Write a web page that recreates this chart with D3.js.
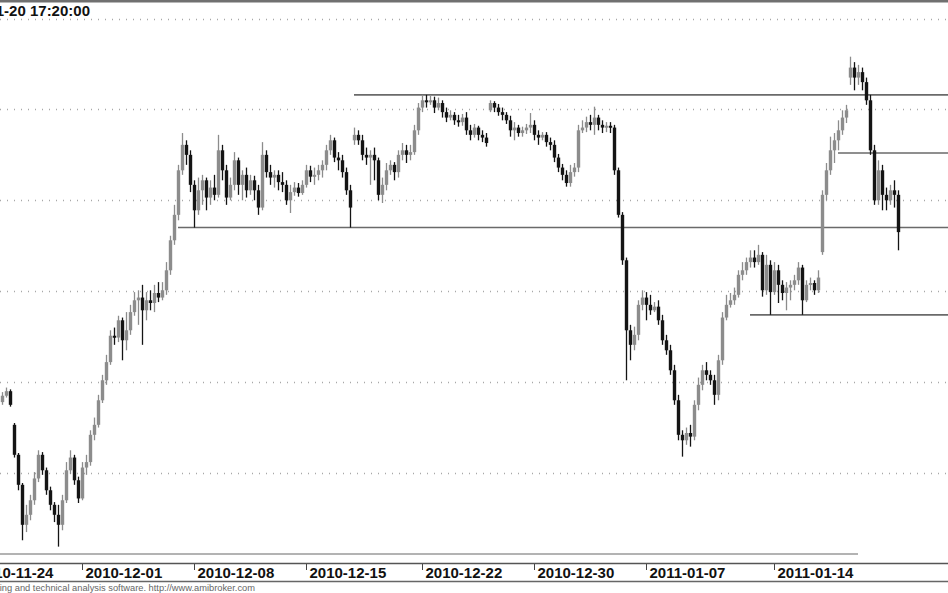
<!DOCTYPE html>
<html>
<head>
<meta charset="utf-8">
<script src="https://d3js.org/d3.v7.min.js"></script>
<style>
  body { margin: 0; background: #fff; }
  svg { display: block; }
</style>
</head>
<body>
<script>
'use strict';

// bar values, left to right (open / high / low / close)
const opens = [
  1078, 1085, 1090, 1053, 1020, 987, 943, 954, 970, 994,
  1020, 1003, 981, 965, 954, 943, 970, 1003, 1017, 992,
  972, 1006, 1012, 1042, 1053, 1080, 1102, 1122, 1151, 1149,
  1168, 1146, 1157, 1177, 1190, 1193, 1179, 1190, 1187, 1198,
  1193, 1201, 1223, 1256, 1284, 1333, 1361, 1350, 1317, 1289,
  1311, 1322, 1303, 1314, 1306, 1355, 1333, 1303, 1317, 1344,
  1317, 1328, 1311, 1322, 1311, 1292, 1350, 1331, 1325, 1328,
  1320, 1317, 1300, 1309, 1314, 1308, 1317, 1333, 1326, 1328,
  1333, 1339, 1355, 1366, 1347, 1344, 1331, 1311, 1366, 1372,
  1366, 1350, 1347, 1350, 1344, 1306, 1317, 1333, 1339, 1331,
  1350, 1355, 1350, 1353, 1377, 1402, 1410, 1408, 1410, 1402,
  1407, 1397, 1391, 1394, 1388, 1386, 1391, 1377, 1372, 1380,
  1372, 1369, 1399, 1407, 1402, 1397, 1394, 1388, 1377, 1380,
  1374, 1377, 1380, 1383, 1372, 1369, 1372, 1364, 1361, 1347,
  1336, 1328, 1319, 1331, 1336, 1377, 1380, 1386, 1383, 1391,
  1383, 1380, 1382, 1380, 1333, 1284, 1234, 1157, 1141, 1152,
  1185, 1193, 1185, 1179, 1183, 1168, 1146, 1135, 1113, 1080,
  1042, 1036, 1044, 1040, 1075, 1097, 1113, 1108, 1102, 1086,
  1124, 1171, 1185, 1190, 1196, 1218, 1223, 1232, 1237, 1232,
  1240, 1201, 1229, 1199, 1223, 1207, 1198, 1204, 1207, 1212,
  1226, 1190, 1207, 1209, 1201, 1243, 1306, 1333, 1355, 1366,
  1377, 1391, 1435, 1446, 1435, 1441, 1430, 1410, 1355, 1300,
  1333, 1306, 1300, 1311, 1306
];
const highs = [
  1089, 1094, 1092, 1055, 1022, 989, 965, 976, 1001, 1025,
  1023, 1006, 985, 968, 965, 976, 1012, 1025, 1020, 996,
  1012, 1020, 1047, 1061, 1086, 1108, 1130, 1157, 1160, 1173,
  1171, 1177, 1185, 1199, 1201, 1207, 1199, 1201, 1207, 1210,
  1210, 1232, 1261, 1295, 1339, 1374, 1366, 1355, 1322, 1325,
  1328, 1325, 1322, 1328, 1372, 1361, 1339, 1325, 1353, 1347,
  1333, 1336, 1328, 1327, 1317, 1364, 1355, 1339, 1333, 1333,
  1331, 1322, 1317, 1320, 1319, 1322, 1339, 1338, 1336, 1339,
  1344, 1361, 1372, 1369, 1353, 1350, 1336, 1317, 1380, 1377,
  1372, 1358, 1355, 1358, 1347, 1325, 1341, 1344, 1342, 1355,
  1363, 1361, 1361, 1383, 1407, 1416, 1416, 1415, 1414, 1413,
  1410, 1402, 1399, 1397, 1394, 1395, 1397, 1383, 1384, 1382,
  1377, 1374, 1410, 1409, 1406, 1402, 1397, 1393, 1386, 1383,
  1381, 1384, 1396, 1388, 1377, 1375, 1375, 1369, 1366, 1351,
  1340, 1333, 1339, 1341, 1383, 1388, 1392, 1394, 1403, 1394,
  1388, 1386, 1386, 1383, 1336, 1287, 1237, 1163, 1161, 1190,
  1201, 1199, 1196, 1188, 1190, 1174, 1152, 1141, 1119, 1086,
  1047, 1050, 1053, 1080, 1105, 1119, 1122, 1113, 1108, 1130,
  1177, 1196, 1198, 1204, 1223, 1232, 1237, 1245, 1245, 1251,
  1243, 1240, 1234, 1232, 1229, 1212, 1210, 1212, 1218, 1232,
  1229, 1212, 1215, 1212, 1223, 1311, 1341, 1370, 1374, 1388,
  1399, 1405, 1458, 1452, 1449, 1446, 1435, 1416, 1361, 1344,
  1339, 1314, 1317, 1322, 1311
];
const lows = [
  1075, 1083, 1073, 1017, 981, 926, 935, 948, 965, 990,
  998, 976, 959, 946, 919, 937, 967, 999, 987, 967,
  970, 998, 1008, 1036, 1050, 1077, 1097, 1119, 1141, 1144,
  1124, 1135, 1152, 1173, 1163, 1141, 1168, 1179, 1177, 1188,
  1190, 1196, 1218, 1251, 1278, 1328, 1339, 1309, 1270, 1284,
  1295, 1289, 1295, 1300, 1303, 1322, 1295, 1300, 1311, 1306,
  1300, 1303, 1306, 1300, 1284, 1289, 1325, 1317, 1314, 1311,
  1309, 1295, 1286, 1305, 1304, 1306, 1314, 1320, 1317, 1322,
  1325, 1333, 1350, 1342, 1333, 1325, 1306, 1270, 1361, 1361,
  1344, 1339, 1317, 1322, 1300, 1297, 1311, 1328, 1322, 1325,
  1344, 1341, 1344, 1350, 1372, 1397, 1402, 1405, 1396, 1399,
  1391, 1386, 1388, 1383, 1381, 1382, 1372, 1366, 1369, 1366,
  1364, 1359, 1397, 1397, 1393, 1388, 1384, 1370, 1366, 1370,
  1370, 1373, 1374, 1366, 1361, 1366, 1359, 1355, 1342, 1331,
  1322, 1315, 1315, 1326, 1331, 1374, 1375, 1377, 1372, 1377,
  1374, 1375, 1374, 1328, 1281, 1229, 1102, 1124, 1135, 1146,
  1179, 1168, 1174, 1177, 1163, 1141, 1130, 1108, 1075, 1036,
  1018, 1031, 1029, 1036, 1069, 1091, 1102, 1097, 1075, 1080,
  1119, 1168, 1182, 1185, 1193, 1212, 1218, 1226, 1226, 1229,
  1194, 1196, 1174, 1196, 1187, 1190, 1179, 1190, 1201, 1207,
  1174, 1188, 1201, 1196, 1198, 1240, 1300, 1328, 1341, 1355,
  1372, 1385, 1427, 1421, 1427, 1421, 1405, 1350, 1295, 1295,
  1289, 1289, 1295, 1292, 1245
];
const closes = [
  1085, 1090, 1075, 1020, 987, 943, 954, 970, 994, 1020,
  1003, 981, 965, 954, 943, 970, 1003, 1017, 992, 972,
  1006, 1012, 1042, 1053, 1080, 1102, 1122, 1151, 1149, 1168,
  1146, 1157, 1177, 1190, 1193, 1179, 1190, 1187, 1198, 1193,
  1201, 1223, 1256, 1284, 1333, 1361, 1350, 1317, 1289, 1311,
  1322, 1303, 1314, 1306, 1355, 1333, 1303, 1317, 1344, 1317,
  1328, 1311, 1322, 1311, 1292, 1350, 1331, 1325, 1328, 1320,
  1317, 1300, 1309, 1314, 1308, 1317, 1333, 1326, 1328, 1333,
  1339, 1355, 1366, 1347, 1344, 1331, 1311, 1292, 1372, 1366,
  1350, 1347, 1350, 1344, 1306, 1317, 1333, 1339, 1331, 1350,
  1355, 1350, 1353, 1377, 1402, 1410, 1408, 1410, 1402, 1407,
  1397, 1391, 1394, 1388, 1386, 1391, 1377, 1372, 1380, 1372,
  1369, 1363, 1407, 1402, 1397, 1394, 1388, 1377, 1380, 1374,
  1377, 1380, 1383, 1372, 1369, 1372, 1364, 1361, 1347, 1336,
  1328, 1319, 1331, 1336, 1377, 1380, 1386, 1383, 1391, 1383,
  1380, 1382, 1380, 1333, 1284, 1234, 1157, 1141, 1152, 1185,
  1193, 1185, 1179, 1183, 1168, 1146, 1135, 1113, 1080, 1042,
  1036, 1044, 1040, 1075, 1097, 1113, 1108, 1102, 1086, 1124,
  1171, 1185, 1190, 1196, 1218, 1223, 1232, 1237, 1232, 1240,
  1201, 1229, 1199, 1223, 1207, 1198, 1204, 1207, 1212, 1226,
  1190, 1207, 1209, 1201, 1215, 1306, 1333, 1355, 1366, 1377,
  1391, 1399, 1446, 1435, 1441, 1430, 1410, 1355, 1300, 1333,
  1306, 1300, 1311, 1306, 1265
];

// date axis: bar index of each tick and its label
const tickBars = [-7, 20, 48, 76, 105, 133, 161, 193];
const tickLabels = ['2010-11-24', '2010-12-01', '2010-12-08', '2010-12-15',
                    '2010-12-22', '2010-12-30', '2011-01-07', '2011-01-14'];

// horizontal support / resistance lines: price and first bar
const levelValues = [1416, 1270, 1352, 1174];
const levelStartBars = [88, 44, 209, 187];

// dotted price grid
const gridValues = [1000, 1100, 1200, 1300, 1400, 1500];

const titleText = '2011-01-20 17:20:00';
const footerText = 'AmiBroker - advanced charting and technical analysis software. http://www.amibroker.com';

(function() {

  const width = 948;
  const height = 593;
  const font = '"Liberation Sans", Arial, sans-serif';

  const svg = d3.select('body')
    .append('svg')
    .attr('width', width)
    .attr('height', height)
    .style('font-family', font);

  const xScale = d3.scaleLinear()
    .domain([0, closes.length - 1])
    .range([2, 898]);

  const yScale = d3.scaleLinear()
    .domain([1000, 1500])
    .range([473, 18.5]);

  // top frame line
  svg.append('rect')
    .attr('x', 0).attr('y', 0)
    .attr('width', width).attr('height', 2.5)
    .attr('fill', '#707070');

  // dotted grid
  svg.append('g')
    .selectAll('line')
    .data(gridValues)
    .enter()
    .append('line')
      .attr('x1', 0)
      .attr('x2', width)
      .attr('y1', d => Math.round(yScale(d)) + 0.5)
      .attr('y2', d => Math.round(yScale(d)) + 0.5)
      .attr('stroke', '#a8a8a8')
      .attr('stroke-width', 1.5)
      .attr('stroke-dasharray', '1,6');

  // support / resistance lines
  svg.append('g')
    .selectAll('line')
    .data(levelValues)
    .enter()
    .append('line')
      .attr('x1', (d, i) => xScale(levelStartBars[i]))
      .attr('x2', width)
      .attr('y1', d => yScale(d))
      .attr('y2', d => yScale(d))
      .attr('stroke', '#6a6a6a')
      .attr('stroke-width', 1.6);

  // candles: grey when up, black when down
  const bars = closes.map((c, i) => ({ i: i, o: opens[i], h: highs[i], l: lows[i], c: c }));
  const colorOf = d => d.c >= d.o ? '#8c8c8c' : '#141414';

  const candle = svg.append('g')
    .selectAll('g')
    .data(bars)
    .enter()
    .append('g');

  candle.append('line')
    .attr('x1', d => xScale(d.i) + 0.5)
    .attr('x2', d => xScale(d.i) + 0.5)
    .attr('y1', d => yScale(d.h))
    .attr('y2', d => yScale(d.l))
    .attr('stroke', colorOf)
    .attr('stroke-width', 1.3);

  candle.append('rect')
    .attr('x', d => xScale(d.i) - 1.2)
    .attr('width', 3.4)
    .attr('y', d => yScale(Math.max(d.o, d.c)))
    .attr('height', d => Math.max(2, Math.abs(yScale(d.o) - yScale(d.c))))
    .attr('fill', colorOf);

  // bottom frame lines
  svg.append('line')
    .attr('x1', 0).attr('x2', 858)
    .attr('y1', 554).attr('y2', 554)
    .attr('stroke', '#9a9a9a').attr('stroke-width', 1.5);
  svg.append('line')
    .attr('x1', 0).attr('x2', width)
    .attr('y1', 563.5).attr('y2', 563.5)
    .attr('stroke', '#555').attr('stroke-width', 1.5);
  svg.append('line')
    .attr('x1', 0).attr('x2', width)
    .attr('y1', 581.5).attr('y2', 581.5)
    .attr('stroke', '#666').attr('stroke-width', 1.5);

  // date axis
  const xAxis = d3.axisBottom(xScale)
    .tickValues(tickBars)
    .tickFormat((d, i) => tickLabels[i])
    .tickSize(6);

  const axisG = svg.append('g')
    .attr('transform', 'translate(0, 564)')
    .call(xAxis);

  axisG.select('.domain').remove();
  axisG.selectAll('.tick line').attr('stroke', '#444');
  axisG.selectAll('.tick text')
    .attr('text-anchor', 'start')
    .attr('x', 3)
    .attr('y', 3)
    .attr('fill', '#111')
    .style('font-family', font)
    .style('font-size', '15px')
    .style('font-weight', 'bold');

  // title (cropped at the left edge, as in the original screenshot)
  svg.append('text')
    .attr('x', 90)
    .attr('y', 16)
    .attr('text-anchor', 'end')
    .attr('fill', '#111')
    .style('font-size', '15px')
    .style('font-weight', 'bold')
    .text(titleText);

  // footer credit
  svg.append('text')
    .attr('x', 255)
    .attr('y', 591)
    .attr('text-anchor', 'end')
    .attr('fill', '#666')
    .style('font-size', '9.3px')
    .text(footerText);

})();
</script>
</body>
</html>
